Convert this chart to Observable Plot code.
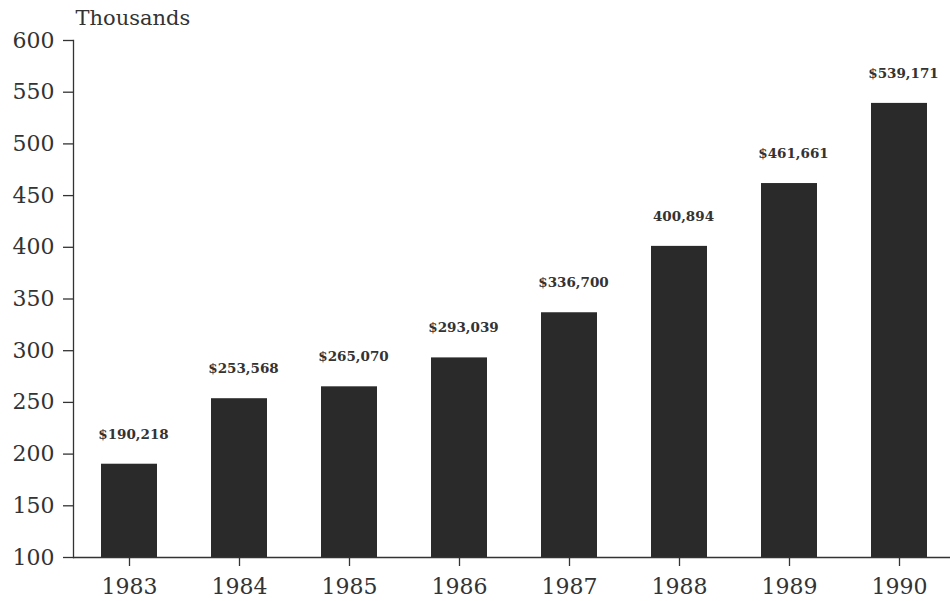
<!DOCTYPE html>
<html>
<head>
<meta charset="utf-8">
<script src="https://cdn.jsdelivr.net/npm/d3@7"></script>
<script src="https://cdn.jsdelivr.net/npm/@observablehq/plot@0.6"></script>
<style>
  html, body { margin: 0; padding: 0; background: #fff; }
  svg { display: block; }
</style>
</head>
<body>
<div id="chart"></div>
<script>
const years = ["1983", "1984", "1985", "1986", "1987", "1988", "1989", "1990"];
const values = [190.218, 253.568, 265.070, 293.039, 336.700, 400.894, 461.661, 539.171];
const labels = ["$190,218", "$253,568", "$265,070", "$293,039", "$336,700", "400,894", "$461,661", "$539,171"];
const yTicks = [100, 150, 200, 250, 300, 350, 400, 450, 500, 550, 600];
const yTitle = "Thousands";

const data = years.map((y, i) => ({year: y, value: values[i], label: labels[i]}));

const font = "'DejaVu Serif', 'Liberation Serif', serif";
const ink = "#333";

const chart = Plot.plot({
  width: 950,
  height: 601,
  marginLeft: 73,
  marginRight: 0,
  marginTop: 40,
  marginBottom: 44,
  style: {fontFamily: font, color: ink, background: "#fff"},
  x: {domain: years, range: [73, 955], paddingInner: 0.49, paddingOuter: 0.245, label: null},
  y: {domain: [100, 600], label: null},
  marks: [
    Plot.barY(data, {x: "year", y: "value", fill: "#2a2a2a", clip: true}),
    Plot.ruleY([100], {stroke: ink, strokeWidth: 1.3}),
    Plot.frame({anchor: "left", stroke: ink, strokeWidth: 1.3}),
    Plot.axisY(yTicks, {tickSize: 10, tickPadding: 9, fontSize: 22, stroke: ink, fill: ink, strokeWidth: 1.3, label: null}),
    Plot.axisX({tickSize: 9, tickPadding: 12, fontSize: 22, stroke: ink, fill: ink, strokeWidth: 1.3, label: null}),
    Plot.text(data, {x: "year", y: "value", text: "label", dy: -30, dx: 4, fontSize: 13.5, fontWeight: "bold", fill: ink}),
    Plot.text([yTitle], {frameAnchor: "top-left", lineAnchor: "middle", dx: 2, dy: -22, textAnchor: "start", fontSize: 21, fill: ink})
  ]
});

document.getElementById("chart").appendChild(chart);
</script>
</body>
</html>
